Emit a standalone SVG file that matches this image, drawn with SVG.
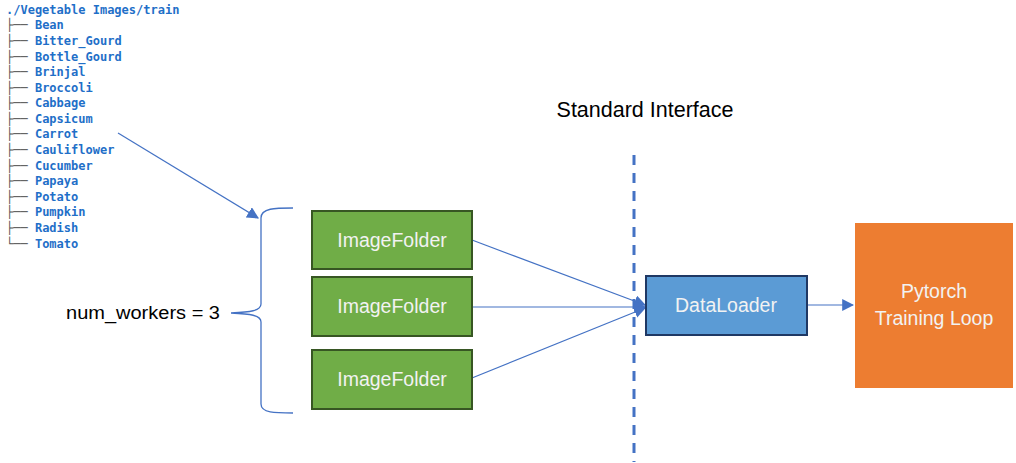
<svg xmlns="http://www.w3.org/2000/svg" width="1016" height="463" viewBox="0 0 1016 463">
<style>
.tree{font-family:"DejaVu Sans Mono",monospace;font-size:12px;font-weight:bold;fill:#1f6fc8}
.tc{fill:#555555;font-weight:normal}
.lbl{font-family:"Liberation Sans",Arial,sans-serif;fill:#f2f2f2;text-anchor:middle}
.conn{stroke:#4472c4;stroke-width:1.2;fill:none}
</style>
<defs>
<marker id="ah" viewBox="0 0 10 10" refX="9" refY="5" markerWidth="12" markerHeight="12" markerUnits="userSpaceOnUse" orient="auto">
<path d="M0,0 L10,5 L0,10 z" fill="#4472c4"/>
</marker>
</defs>
<rect width="1016" height="463" fill="#ffffff"/>
<g id="tree" class="tree">
<text x="6" y="14">./Vegetable Images/train</text>
<text x="6" y="29"><tspan class="tc">├── </tspan>Bean</text>
<text x="6" y="45"><tspan class="tc">├── </tspan>Bitter_Gourd</text>
<text x="6" y="61"><tspan class="tc">├── </tspan>Bottle_Gourd</text>
<text x="6" y="76"><tspan class="tc">├── </tspan>Brinjal</text>
<text x="6" y="92"><tspan class="tc">├── </tspan>Broccoli</text>
<text x="6" y="107"><tspan class="tc">├── </tspan>Cabbage</text>
<text x="6" y="123"><tspan class="tc">├── </tspan>Capsicum</text>
<text x="6" y="138"><tspan class="tc">├── </tspan>Carrot</text>
<text x="6" y="154"><tspan class="tc">├── </tspan>Cauliflower</text>
<text x="6" y="170"><tspan class="tc">├── </tspan>Cucumber</text>
<text x="6" y="185"><tspan class="tc">├── </tspan>Papaya</text>
<text x="6" y="201"><tspan class="tc">├── </tspan>Potato</text>
<text x="6" y="216"><tspan class="tc">├── </tspan>Pumpkin</text>
<text x="6" y="232"><tspan class="tc">├── </tspan>Radish</text>
<text x="6" y="248"><tspan class="tc">└── </tspan>Tomato</text>
</g>
<g id="brace">
<path d="M293,208 C275,208 261,208 261,218 L261,304 C261,311 250,312 231,313 C250,314 261,315 261,322 L261,404 C261,413 275,413 293,413" fill="none" stroke="#4472c4" stroke-width="1.3"/>
</g>
<g id="workers-label">
<text x="66" y="319" font-family="'Liberation Sans',Arial,sans-serif" font-size="18" fill="#000" textLength="154" lengthAdjust="spacingAndGlyphs">num_workers = 3</text>
</g>
<g id="standard-interface">
<text x="645" y="117" font-family="'Liberation Sans',Arial,sans-serif" font-size="21.5" fill="#000" text-anchor="middle">Standard Interface</text>
<line x1="634" y1="155" x2="634" y2="462" stroke="#4472c4" stroke-width="3" stroke-dasharray="10,8"/>
</g>
<g id="connectors">
<line class="conn" x1="118" y1="133" x2="258" y2="218" marker-end="url(#ah)"/>
<line class="conn" x1="472" y1="240" x2="645" y2="305" marker-end="url(#ah)"/>
<line class="conn" x1="472" y1="307" x2="645" y2="307" marker-end="url(#ah)"/>
<line class="conn" x1="472" y1="378" x2="645" y2="308" marker-end="url(#ah)"/>
<line class="conn" x1="807" y1="305" x2="853" y2="305" marker-end="url(#ah)"/>
</g>
<g id="imagefolder1">
<rect x="312" y="211" width="160" height="58" fill="#70ad47" stroke="#375623" stroke-width="2"/>
<text class="lbl" x="392" y="247" font-size="19.5">ImageFolder</text>
</g>
<g id="imagefolder2">
<rect x="312" y="277" width="160" height="59" fill="#70ad47" stroke="#375623" stroke-width="2"/>
<text class="lbl" x="392" y="313" font-size="19.5">ImageFolder</text>
</g>
<g id="imagefolder3">
<rect x="312" y="350" width="160" height="59" fill="#70ad47" stroke="#375623" stroke-width="2"/>
<text class="lbl" x="392" y="386" font-size="19.5">ImageFolder</text>
</g>
<g id="dataloader">
<rect x="646" y="276" width="161" height="59" fill="#5b9bd5" stroke="#1f3864" stroke-width="2"/>
<text class="lbl" x="726" y="312" font-size="19.5">DataLoader</text>
</g>
<g id="pytorch">
<rect x="855" y="223" width="158" height="165" fill="#ed7d31"/>
<text class="lbl" x="934" y="298" font-size="19.5">Pytorch</text>
<text class="lbl" x="934" y="325" font-size="19.5">Training Loop</text>
</g>
</svg>
